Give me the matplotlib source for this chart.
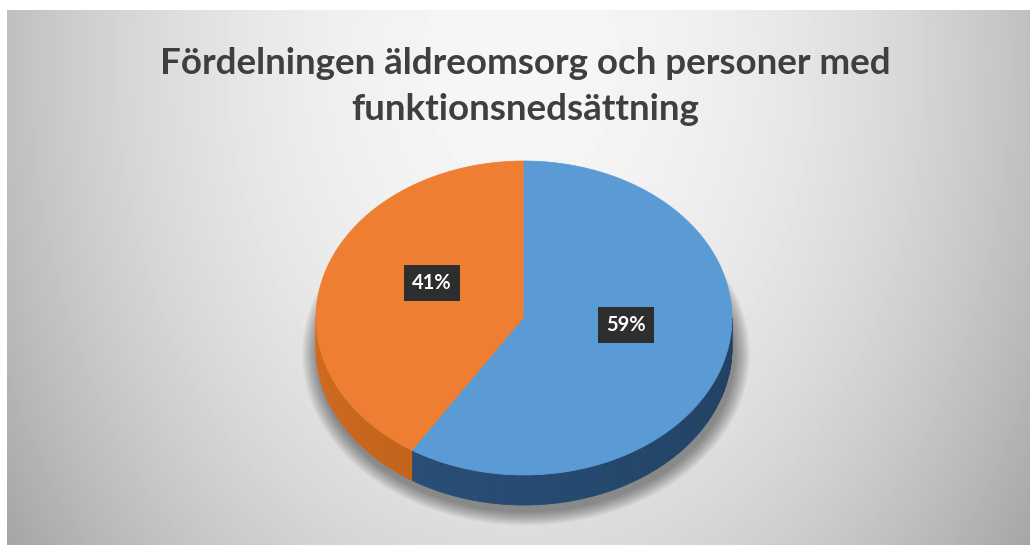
import numpy as np
import matplotlib
matplotlib.use("Agg")
import matplotlib.pyplot as plt
from matplotlib.patches import Ellipse, Polygon

# ---- data ----
title_lines = ["Fördelningen äldreomsorg och personer med", "funktionsnedsättning"]
categories = ["Personer med funktionsnedsättning", "Äldreomsorg"]
shares = [41, 59]            # percent
labels = ["41%", "59%"]
top_colors = ["#EE7E32", "#5B9BD5"]
side_colors = ["#B65D1B", "#26496F"]

# ---- layout ----
W, H = 1030, 545
fig = plt.figure(figsize=(W / 100, H / 100), dpi=100)
fig.patch.set_facecolor("white")
ax = fig.add_axes([0, 0, 1, 1])

# background panel with soft radial gradient
px0, py0 = 7, 10
yy, xx = np.mgrid[py0:H, px0:W]
dx = (xx - 520) / 520.0
dy = (yy - 60) / 520.0
r2 = dx ** 2 + 0.55 * dy ** 2
val = np.clip(0.965 - 0.22 * r2, 0, 1)
ax.imshow(val, cmap="gray", vmin=0, vmax=1, extent=(px0, W, H, py0),
          origin="upper", aspect="auto", interpolation="bilinear", zorder=0)

ax.set_xlim(0, W)
ax.set_ylim(H, 0)
ax.axis("off")

# pie geometry
cx, cy, rx, ry, depth = 524, 318, 208, 157, 30
start = 90.0


def pt(t_deg, dz=0.0):
    t = np.radians(t_deg)
    return cx + rx * np.cos(t), cy - ry * np.sin(t) + dz


# shadow
for k in range(16):
    e = Ellipse((cx + 2, cy + depth + 6), 2 * (rx + 1 + k), 2 * (ry + 1 + k * 0.9),
                facecolor="black", edgecolor="none", alpha=0.028, zorder=1)
    ax.add_patch(e)

total = float(sum(shares))
angles = []
a = start
for s in shares:
    b = a + 360.0 * s / total
    angles.append((a, b))
    a = b


def shade(hexcol, f):
    c = np.array(matplotlib.colors.to_rgb(hexcol))
    return tuple(np.clip(c * f, 0, 1))


# sides (visible front half: 180..360 deg)
for (a, b), col in zip(angles, side_colors):
    for lo, hi in [(180, 360), (540, 720)]:
        s, e = max(a, lo), min(b, hi)
        if e <= s:
            continue
        n = max(int((e - s) / 2), 2)
        ts = np.linspace(s, e, n + 1)
        for t0, t1 in zip(ts[:-1], ts[1:]):
            tm = ((t0 + t1) / 2) % 360
            f = 0.88 + 0.28 * (360 - tm) / 180.0
            seg = np.linspace(t0, t1, 4)
            top = [pt(t) for t in seg]
            bot = [pt(t, depth) for t in seg[::-1]]
            ax.add_patch(Polygon(top + bot, closed=True, facecolor=shade(col, f),
                                 edgecolor=shade(col, f), linewidth=0.6, zorder=2))

# top wedges
for (a, b), col in zip(angles, top_colors):
    ts = np.linspace(a, b, 200)
    poly = [(cx, cy)] + [pt(t) for t in ts]
    ax.add_patch(Polygon(poly, closed=True, facecolor=col, edgecolor=col,
                         linewidth=0.5, zorder=3))

# data labels
for (a, b), lab in zip(angles, labels):
    m = np.radians((a + b) / 2)
    x = cx + 0.485 * rx * np.cos(m) + 5
    y = cy - 0.485 * ry * np.sin(m) - 14
    ax.text(x, y, lab, ha="center", va="center", color="white", fontsize=14.5,
            fontweight="bold", family="Lato", zorder=5,
            bbox=dict(boxstyle="square,pad=0.4", facecolor="#2E2E2E", edgecolor="none"))

# title, fitted to reference width
t1 = ax.text(525, 74, title_lines[0], ha="center", va="baseline", fontsize=20,
             fontweight="bold", family="Lato", color="#3F3F3F", zorder=6)
fig.canvas.draw()
w = t1.get_window_extent(fig.canvas.get_renderer()).width
fs = 20 * 733.0 / w
t1.set_fontsize(fs)
ax.text(525, 120, title_lines[1], ha="center", va="baseline", fontsize=fs,
        fontweight="bold", family="Lato", color="#3F3F3F", zorder=6)

fig.savefig("out.png", dpi=100, facecolor="white")
